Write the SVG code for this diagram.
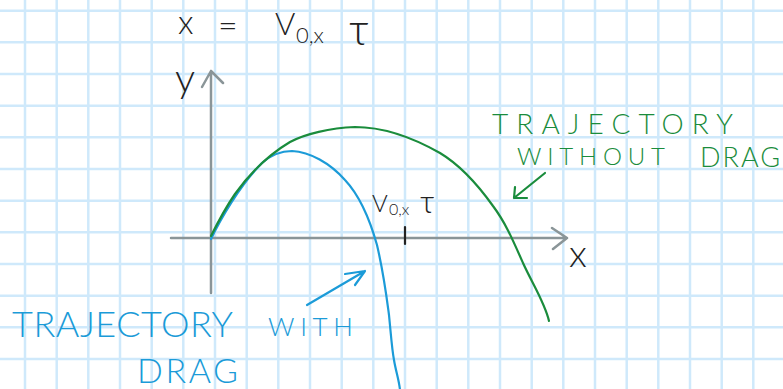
<svg xmlns="http://www.w3.org/2000/svg" width="783" height="389" viewBox="0 0 783 389">
<style>
.grid line{stroke:#cfe9fb;stroke-width:2.5}
.axis{fill:none;stroke:#8a9598;stroke-width:2.5;stroke-linecap:round;stroke-linejoin:round}
.curve{fill:none;stroke-width:2.2;stroke-linecap:round;stroke-linejoin:round}
.green{stroke:#1a8c3c}
.blue{stroke:#1b9bd8}
.ink{fill:none;stroke:#222;stroke-width:2.2;stroke-linecap:round}
text{font-family:Lato,"Liberation Sans",sans-serif;font-weight:300}
.tk{fill:#222}
.tg{fill:#1a8c3c}
.tb{fill:#1b9bd8}
</style>
<rect width="783" height="389" fill="#ffffff"/>
<g id="grid" class="grid">
<line x1="25" y1="0" x2="25" y2="389"/><line x1="56.7" y1="0" x2="56.7" y2="389"/><line x1="88.3" y1="0" x2="88.3" y2="389"/><line x1="120" y1="0" x2="120" y2="389"/><line x1="151.7" y1="0" x2="151.7" y2="389"/><line x1="183.3" y1="0" x2="183.3" y2="389"/><line x1="215" y1="0" x2="215" y2="389"/><line x1="246.7" y1="0" x2="246.7" y2="389"/><line x1="278.3" y1="0" x2="278.3" y2="389"/><line x1="310" y1="0" x2="310" y2="389"/><line x1="341.7" y1="0" x2="341.7" y2="389"/><line x1="373.3" y1="0" x2="373.3" y2="389"/><line x1="405" y1="0" x2="405" y2="389"/><line x1="436.7" y1="0" x2="436.7" y2="389"/><line x1="468.3" y1="0" x2="468.3" y2="389"/><line x1="500" y1="0" x2="500" y2="389"/><line x1="531.7" y1="0" x2="531.7" y2="389"/><line x1="563.3" y1="0" x2="563.3" y2="389"/><line x1="595" y1="0" x2="595" y2="389"/><line x1="626.7" y1="0" x2="626.7" y2="389"/><line x1="658.3" y1="0" x2="658.3" y2="389"/><line x1="690" y1="0" x2="690" y2="389"/><line x1="721.7" y1="0" x2="721.7" y2="389"/><line x1="753.3" y1="0" x2="753.3" y2="389"/>
<line x1="0" y1="10.7" x2="783" y2="10.7"/><line x1="0" y1="42.3" x2="783" y2="42.3"/><line x1="0" y1="74" x2="783" y2="74"/><line x1="0" y1="105.7" x2="783" y2="105.7"/><line x1="0" y1="137.3" x2="783" y2="137.3"/><line x1="0" y1="169" x2="783" y2="169"/><line x1="0" y1="200.7" x2="783" y2="200.7"/><line x1="0" y1="232.3" x2="783" y2="232.3"/><line x1="0" y1="264" x2="783" y2="264"/><line x1="0" y1="295.7" x2="783" y2="295.7"/><line x1="0" y1="327.3" x2="783" y2="327.3"/><line x1="0" y1="359" x2="783" y2="359"/>
</g>
<g id="axes">
<path class="axis" d="M211,293 L211,71 M202,87 L211,71 L223,83"/>
<path class="axis" d="M171,238 L567,238 M552,228 L567,238 L553,249"/>
<path class="ink" d="M405,227 L405,244"/>
</g>
<g id="curve-with-drag">
<path class="curve blue" d="M211,239 C220,220 240,185 262,163 C272,154 282,151 292,151 C310,152 330,163 345,180 C360,196 370,220 377,245 C384,275 387,300 389,315 C391,335 392,350 394,360 C396,372 399,380 400,390"/>
</g>
<g id="curve-without-drag">
<path class="curve green" d="M211,236 C218,222 226,207 235,194 C248,176 268,155 290,142 C305,134 330,128 355,127 C380,127 410,136 440,153 C460,165 478,185 493,206 C505,222 512,238 523,263 C532,283 545,303 549,321"/>
</g>
<g id="connectors">
<path class="curve green" d="M545,173 L514,198 M515,187 L514,198 L527,198"/>
<path class="curve blue" d="M307,305 L365,271 M345,274 L365,271 L355,285"/>
</g>
<g id="equation">
<text class="tk" x="178" y="34" font-size="33">x</text>
<text class="tk" x="218" y="37" font-size="34">=</text>
<text class="tk" x="275" y="35" font-size="31">V</text>
<text class="tk" x="296" y="43" font-size="22">0,x</text>
<text class="tk" x="349" y="45" font-size="44">τ</text>
</g>
<g id="axis-labels">
<text class="tk" x="175" y="92" font-size="40">y</text>
<text class="tk" x="569" y="267" font-size="38">x</text>
<text class="tk" x="372" y="212" font-size="24">V</text>
<text class="tk" x="389" y="215" font-size="16">0,x</text>
<text class="tk" x="420" y="213" font-size="32">τ</text>
</g>
<g id="label-without-drag">
<text class="tg" x="492" y="134" font-size="28" textLength="241" lengthAdjust="spacing">TRAJECTORY</text>
<text class="tg" x="517" y="165" font-size="24" textLength="148" lengthAdjust="spacing">WITHOUT</text>
<text class="tg" x="700" y="167" font-size="27" textLength="80" lengthAdjust="spacing">DRAG</text>
</g>
<g id="label-with-drag">
<text class="tb" x="12" y="337" font-size="36" textLength="221" lengthAdjust="spacing">TRAJECTORY</text>
<text class="tb" x="268" y="336" font-size="26" textLength="85" lengthAdjust="spacing">WITH</text>
<text class="tb" x="137" y="383" font-size="34" textLength="101" lengthAdjust="spacing">DRAG</text>
</g>
</svg>
